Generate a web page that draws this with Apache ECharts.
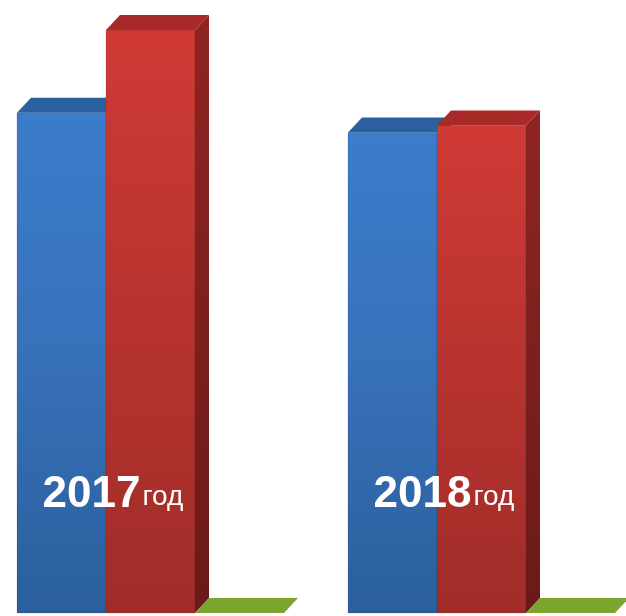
<!DOCTYPE html>
<html><head><meta charset="utf-8">
<style>html,body{margin:0;padding:0;background:#fff}#c{width:626px;height:616px}</style>
<script src="https://cdn.jsdelivr.net/npm/echarts@6/dist/echarts.min.js"></script>
</head><body><div id="c"></div>
<script>
const categories = ['2017', '2018'];
const yearSuffix = 'год';
const blueValues = [85.8, 82.4];
const redValues = [100, 83.6];
const greenValues = [0, 0];

const seriesStyles = [
  {name:'Ряд 1', data:blueValues, slot:0, front:['#3b7ccb','#3872bb','#2a5f9c'], top:'#2b609f', side:['#24528a','#1c4070']},
  {name:'Ряд 2', data:redValues, slot:1, front:['#d03a35','#b93430','#a02c28'], top:'#a82a28', side:['#8f2522','#6a1a18']},
  {name:'Ряд 3', data:greenValues, slot:2, front:['#8fbb3a','#86b034','#7aa02e'], top:'#7ca42f', side:['#62802a','#55701f']}
];
const BAR = 89/331, DX = 14, DY = 15, GROUP = 267/331;

function renderer(st){
  return function(params, api){
    const band = api.size([1,0])[0];
    const c = api.coord([api.value(0), api.value(1)]);
    const base = api.coord([api.value(0), 0]);
    const w = band*BAR;
    const x0 = c[0] - band*GROUP/2 + st.slot*w;
    const x1 = x0 + w, yt = c[1], yb = base[1];
    const grad = new echarts.graphic.LinearGradient(0,0,0,1,[
      {offset:0,color:st.front[0]},{offset:.45,color:st.front[1]},{offset:1,color:st.front[2]}]);
    const sideGrad = new echarts.graphic.LinearGradient(0,0,0,1,[
      {offset:0,color:st.side[0]},{offset:1,color:st.side[1]}]);
    const children = [];
    if (yb - yt > 0.5) {
      children.push({type:'polygon',shape:{points:[[x1,yt],[x1+DX,yt-DY],[x1+DX,yb-DY],[x1,yb]]},style:{fill:sideGrad}});
      children.push({type:'rect',shape:{x:x0,y:yt,width:w,height:yb-yt},style:{fill:grad,stroke:'rgba(40,30,40,0.14)',lineWidth:1}});
    }
    children.push({type:'polygon',shape:{points:[[x0,yt],[x0+DX,yt-DY],[x1+DX,yt-DY],[x1,yt]]},style:{fill:st.top}});
    return {type:'group',children};
  };
}

const chart = echarts.init(document.getElementById('c'),null,{renderer:'canvas'});
chart.setOption({
  animation:false,
  backgroundColor:'#fff',
  grid:{left:-15,top:30,width:662,height:583,containLabel:false,outerBoundsMode:'none'},
  xAxis:{type:'category',data:categories,z:10,
    axisLine:{show:false},axisTick:{show:false},splitLine:{show:false},
    axisLabel:{inside:true,margin:92,interval:0,padding:[0,75,0,0],
      formatter:v=>`{y|${v}}{g|${yearSuffix}}`,
      rich:{y:{fontFamily:'Liberation Sans',fontWeight:'bold',fontSize:44,color:'#fff',padding:[0,0,4,0]},
            g:{fontFamily:'Liberation Sans',fontSize:28,lineHeight:16,color:'#fff',padding:[0,0,0,2]}}}},
  yAxis:{type:'value',min:0,max:100,show:false,splitLine:{show:false}},
  series:seriesStyles.map(st=>({
    type:'custom',name:st.name,clip:false,
    renderItem:renderer(st),
    encode:{x:0,y:1},
    data:categories.map((c,i)=>[c,st.data[i]])
  }))
});
</script></body></html>
